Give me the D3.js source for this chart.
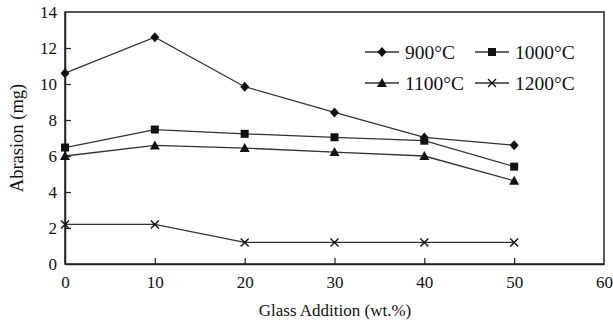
<!DOCTYPE html>
<html><head><meta charset="utf-8">
<script src="https://cdn.jsdelivr.net/npm/d3@7"></script>
<style>body{margin:0;background:#fff}svg{display:block}text{font-family:"Liberation Serif","Times New Roman",serif;fill:#111}</style>
</head><body>
<script>
const xValues = [0, 10, 20, 30, 40, 50];
const seriesNames = ["900°C", "1000°C", "1100°C", "1200°C"];
const s900 = [10.6, 12.6, 9.85, 8.42, 7.03, 6.6];
const s1000 = [6.47, 7.47, 7.23, 7.04, 6.85, 5.41];
const s1100 = [6.0, 6.59, 6.44, 6.22, 6.0, 4.62];
const s1200 = [2.2, 2.2, 1.2, 1.2, 1.2, 1.2];
const xTicks = [0, 10, 20, 30, 40, 50, 60];
const yTicks = [0, 2, 4, 6, 8, 10, 12, 14];
const markers = ["diamond", "square", "triangle", "cross"];
const seriesValues = [s900, s1000, s1100, s1200];

const W = 613, H = 327;
const svg = d3.select("body").append("svg").attr("width", W).attr("height", H);
const x = d3.scaleLinear().domain([0, 60]).range([65, 604]);
const y = d3.scaleLinear().domain([0, 14]).range([264, 12]);

const g = svg.append("g");
g.append("rect").attr("x", x(0)).attr("y", y(14)).attr("width", x(60) - x(0)).attr("height", y(0) - y(14))
  .attr("fill", "none").attr("stroke", "#222").attr("stroke-width", 1.5);

const xAxis = g.append("g").attr("transform", `translate(0,${y(0)})`)
  .call(d3.axisBottom(x).tickValues(xTicks).tickSizeInner(-6).tickSizeOuter(0).tickPadding(12));
const yAxis = g.append("g").attr("transform", `translate(${x(0)},0)`)
  .call(d3.axisLeft(y).tickValues(yTicks).tickSizeInner(-6).tickSizeOuter(0).tickPadding(8));
[xAxis, yAxis].forEach(a => {
  a.select(".domain").attr("stroke", "#222").attr("stroke-width", 1.5);
  a.selectAll(".tick line").attr("stroke", "#222").attr("stroke-width", 1.2);
  a.selectAll(".tick text").attr("font-size", 17).attr("font-family", "Liberation Serif").attr("fill", "#111");
});
xAxis.selectAll(".tick").filter(d => d === 0 || d === 60).select("line").remove();
yAxis.selectAll(".tick").filter(d => d === 0 || d === 14).select("line").remove();

svg.append("text").attr("x", 335).attr("y", 316).attr("text-anchor", "middle").attr("font-size", 17)
  .text("Glass Addition (wt.%)");
svg.append("text").attr("transform", "translate(23,138) rotate(-90)").attr("text-anchor", "middle").attr("font-size", 18.5)
  .text("Abrasion (mg)");

function drawMarker(sel, type, cx, cy) {
  if (type === "diamond") {
    sel.append("path").attr("d", `M${cx},${cy-5}L${cx+4.5},${cy}L${cx},${cy+5}L${cx-4.5},${cy}Z`).attr("fill", "#111");
  } else if (type === "square") {
    sel.append("rect").attr("x", cx - 4).attr("y", cy - 4).attr("width", 8).attr("height", 8).attr("fill", "#111");
  } else if (type === "triangle") {
    sel.append("path").attr("d", `M${cx},${cy-5}L${cx+5},${cy+4}L${cx-5},${cy+4}Z`).attr("fill", "#111");
  } else {
    sel.append("path").attr("d", `M${cx-4},${cy-4}L${cx+4},${cy+4}M${cx-4},${cy+4}L${cx+4},${cy-4}`)
      .attr("stroke", "#111").attr("stroke-width", 1.4).attr("fill", "none");
  }
}

const line = d3.line().x((d, i) => x(xValues[i])).y(d => y(d));
seriesValues.forEach((vals, si) => {
  const sg = g.append("g");
  sg.append("path").datum(vals).attr("d", line).attr("fill", "none").attr("stroke", "#333").attr("stroke-width", 1.3);
  vals.forEach((v, i) => drawMarker(sg, markers[si], x(xValues[i]), y(v)));
});

// legend
const legPos = [[365, 52], [475, 52], [365, 83], [475, 83]];
seriesNames.forEach((name, i) => {
  const [lx, ly] = legPos[i];
  const lg = svg.append("g");
  lg.append("line").attr("x1", lx).attr("x2", lx + 34).attr("y1", ly).attr("y2", ly).attr("stroke", "#333").attr("stroke-width", 1.3);
  drawMarker(lg, markers[i], lx + 17, ly);
  lg.append("text").attr("x", lx + 40).attr("y", ly + 6.5).attr("font-size", 19.5).text(name);
});
</script>
</body></html>
